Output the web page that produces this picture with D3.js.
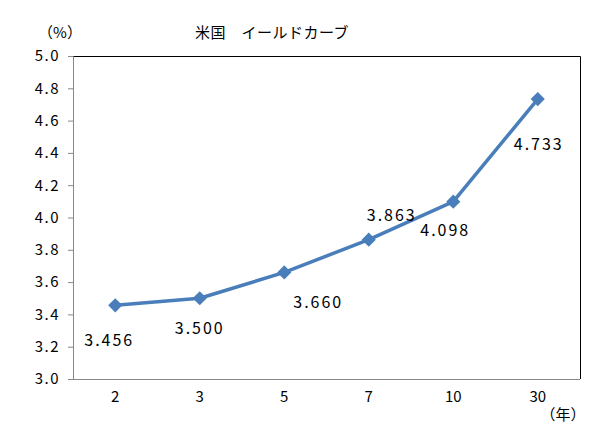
<!DOCTYPE html>
<html><head><meta charset="utf-8">
<script src="https://cdn.jsdelivr.net/npm/d3@7"></script>
<style>
body{margin:0;background:#fff;}
text{font-family:"Noto Sans CJK JP","Noto Sans",sans-serif;fill:#000;}
</style></head>
<body><svg id="c" width="597" height="438"></svg>
<script>
const categories = ["2","3","5","7","10","30"];
const yields = [3.456, 3.500, 3.660, 3.863, 4.098, 4.733];
const yTicks = [3.0, 3.2, 3.4, 3.6, 3.8, 4.0, 4.2, 4.4, 4.6, 4.8, 5.0];
const labelText = ["3.456","3.500","3.660","3.863","4.098","4.733"];
// label offsets relative to points (layout)
const labelDx = [-6, 0, 34, 23, -8, 1];
const labelDy = [35, 30, 30, -25, 28, 45];

const svg = d3.select("#c");
const L = 73, R = 580, T = 56, B = 379;
const x = d3.scaleBand().domain(categories).range([L, R]);
const y = d3.scaleLinear().domain([3.0, 5.0]).range([B, T]);

// border (top/right)
svg.append("path").attr("d", `M${L},${T+0.5}H${R+0.5}V${B}`).attr("fill","none").attr("stroke","#000").attr("stroke-width",1);

// y axis
const ya = svg.append("g").attr("transform",`translate(${L},0)`)
  .call(d3.axisLeft(y).tickValues(yTicks).tickFormat(d3.format(".1f")).tickSize(5).tickPadding(8));
ya.select(".domain").attr("stroke","#888");
ya.selectAll(".tick line").attr("stroke","#888");
ya.selectAll("text").style("font-size","15px").style("letter-spacing","1.5px").attr("fill","#000");

// x axis
const xa = svg.append("g").attr("transform",`translate(0,${B})`)
  .call(d3.axisBottom(x).tickSize(0).tickPadding(12));
xa.select(".domain").attr("stroke","#888").attr("d",`M${L},0.5H${R}`);
xa.selectAll("text").style("font-size","15px").attr("fill","#000");

// line
const line = d3.line().x((d,i)=>x(categories[i])+x.bandwidth()/2).y(d=>y(d));
svg.append("path").datum(yields).attr("d",line).attr("fill","none")
  .attr("stroke","#4a7ebb").attr("stroke-width",3.5).attr("stroke-linejoin","round");

svg.selectAll(".m").data(yields).enter().append("rect")
  .attr("x",-5).attr("y",-5).attr("width",10).attr("height",10)
  .attr("transform",(d,i)=>`translate(${x(categories[i])+x.bandwidth()/2},${y(d)}) rotate(45)`)
  .attr("fill","#4a7ebb");

// data labels
svg.selectAll(".lbl").data(yields).enter().append("text")
  .attr("x",(d,i)=>x(categories[i])+x.bandwidth()/2+labelDx[i])
  .attr("y",(d,i)=>y(d)+labelDy[i]+6)
  .attr("text-anchor","middle").style("font-size","16px").style("letter-spacing","2px")
  .text((d,i)=>labelText[i]);

// titles
svg.append("text").attr("x",272).attr("y",38).attr("text-anchor","middle").style("font-size","15px").style("letter-spacing","0.5px").text("米国　イールドカーブ");
svg.append("text").attr("x",60).attr("y",38).attr("text-anchor","middle").style("font-size","15px").text("（%）");
svg.append("text").attr("x",563).attr("y",420).attr("text-anchor","middle").style("font-size","15px").text("（年）");
</script></body></html>
